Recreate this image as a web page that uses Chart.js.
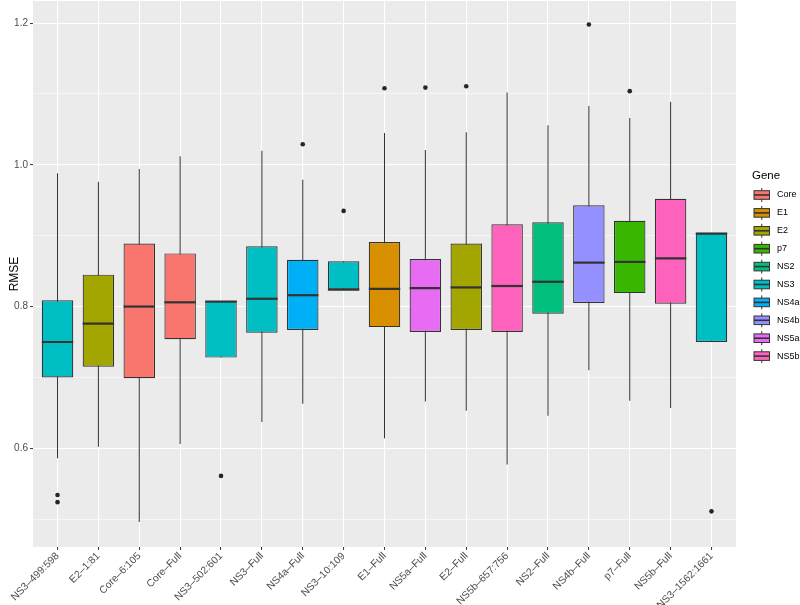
<!DOCTYPE html>
<html><head><meta charset="utf-8">
<script src="https://cdn.jsdelivr.net/npm/chart.js@4"></script>
<style>html,body{margin:0;padding:0;background:#fff}#wrap{width:800px;height:605px}</style>
</head><body><div id="wrap"><canvas id="c" width="800" height="605"></canvas></div>
<script>
const categories = ['NS3–499:598','E2–1:81','Core–6:105','Core–Full','NS3–502:601','NS3–Full','NS4a–Full','NS3–10:109','E1–Full','NS5a–Full','E2–Full','NS5b–657:756','NS2–Full','NS4b–Full','p7–Full','NS5b–Full','NS3–1562:1661'];
const genes = ['NS3','E2','Core','Core','NS3','NS3','NS4a','NS3','E1','NS5a','E2','NS5b','NS2','NS4b','p7','NS5b','NS3'];
const geneLevels = ['Core','E1','E2','p7','NS2','NS3','NS4a','NS4b','NS5a','NS5b'];
const geneColors = ['#F8766D','#D89000','#A3A500','#39B600','#00BF7D','#00BFC4','#00B0F6','#9590FF','#E76BF3','#FF62BC'];
const whiskerLow  = [0.586,0.602,0.496,0.606,0.728,0.637,0.663,0.824,0.614,0.666,0.653,0.577,0.646,0.710,0.667,0.657,0.750];
const q1          = [0.700,0.715,0.699,0.754,0.728,0.763,0.767,0.824,0.771,0.764,0.767,0.764,0.790,0.805,0.819,0.804,0.750];
const median      = [0.750,0.776,0.800,0.806,0.807,0.811,0.816,0.824,0.825,0.826,0.827,0.829,0.835,0.862,0.863,0.868,0.903];
const q3          = [0.809,0.845,0.889,0.875,0.808,0.885,0.866,0.864,0.891,0.867,0.889,0.916,0.919,0.943,0.921,0.952,0.904];
const whiskerHigh = [0.988,0.976,0.994,1.012,0.808,1.020,0.979,0.864,1.045,1.021,1.046,1.102,1.056,1.083,1.066,1.089,0.904];
const outliers    = [[0.534,0.524],[],[],[],[0.561],[],[1.029],[0.935],[1.108],[1.109],[1.111],[],[],[1.198],[1.104],[],[0.511]];
const yTickValues = [0.5,0.6,0.7,0.8,0.9,1.0,1.1,1.2];

const idx = categories.map((_, i) => i);
const fillFor = i => geneColors[geneLevels.indexOf(genes[i])];
const isMajor = v => Math.round(v * 10) % 2 === 0;
const FONT = '"Liberation Sans", Arial, sans-serif';

const bgPlugin = {
  id: 'panelBg',
  beforeDraw(chart) {
    const {ctx, chartArea: a} = chart;
    ctx.save();
    ctx.fillStyle = '#FFFFFF';
    ctx.fillRect(0, 0, chart.width, chart.height);
    ctx.fillStyle = '#EBEBEB';
    ctx.fillRect(a.left, a.top, a.right - a.left, a.bottom - a.top);
    ctx.restore();
  }
};

const legendPlugin = {
  id: 'geneLegend',
  afterDraw(chart) {
    const ctx = chart.ctx;
    ctx.save();
    ctx.fillStyle = '#000000';
    ctx.textBaseline = 'middle';
    ctx.textAlign = 'left';
    ctx.font = '11.5px ' + FONT;
    ctx.fillText('Gene', 752, 176);
    const kw = 17.5, x0 = 753;
    geneLevels.forEach((g, k) => {
      const cy = 195 + k * 17.9;
      const cx = x0 + kw / 2;
      ctx.strokeStyle = '#333333';
      ctx.lineWidth = 1;
      ctx.beginPath();
      ctx.moveTo(cx, cy - 7); ctx.lineTo(cx, cy + 7);
      ctx.stroke();
      ctx.fillStyle = geneColors[k];
      ctx.fillRect(x0 + 1, cy - 4.3, kw - 2, 8.6);
      ctx.strokeRect(x0 + 1, cy - 4.3, kw - 2, 8.6);
      ctx.lineWidth = 1.6;
      ctx.beginPath();
      ctx.moveTo(x0 + 1, cy); ctx.lineTo(x0 + kw - 1, cy);
      ctx.stroke();
      ctx.fillStyle = '#000000';
      ctx.font = '9px ' + FONT;
      ctx.fillText(g, 777, cy);
    });
    ctx.restore();
  }
};

const outlierPoints = [];
outliers.forEach((arr, i) => arr.forEach(v => outlierPoints.push({x: i, y: v})));

new Chart(document.getElementById('c'), {
  type: 'bar',
  data: {
    datasets: [
      {
        type: 'bar', label: 'whiskers',
        data: idx.map(i => ({x: i, y: [whiskerLow[i], whiskerHigh[i]]})),
        backgroundColor: '#333333', borderWidth: 0,
        grouped: false, maxBarThickness: 1, order: 3
      },
      {
        type: 'bar', label: 'boxes',
        data: idx.map(i => ({x: i, y: [q1[i], q3[i]]})),
        backgroundColor: idx.map(fillFor),
        borderColor: '#333333', borderWidth: 1.2, borderSkipped: false,
        grouped: false, barPercentage: 0.77, categoryPercentage: 1, order: 2
      },
      {
        type: 'line', label: 'median',
        data: idx.map(i => ({x: i, y: median[i]})),
        showLine: false, pointStyle: 'line', pointRadius: 15.7, pointHoverRadius: 15.7,
        pointBorderWidth: 2.2, pointBorderColor: '#333333', order: 1
      },
      {
        type: 'scatter', label: 'outliers',
        data: outlierPoints,
        pointRadius: 2.3, pointBackgroundColor: '#262626', pointBorderColor: '#262626',
        pointBorderWidth: 0, order: 0
      }
    ]
  },
  options: {
    responsive: false,
    animation: false,
    events: [],
    layout: {autoPadding: false, padding: {top: 1, right: 64, left: 0, bottom: 0}},
    plugins: {legend: {display: false}, tooltip: {enabled: false}},
    scales: {
      x: {
        type: 'linear', min: -0.6, max: 16.6, offset: false,
        afterBuildTicks: s => { s.ticks = idx.map(v => ({value: v})); },
        afterFit: s => { s.height = 58; s.paddingLeft = 0; s.paddingRight = 0; },
        grid: {offset: false, color: '#FFFFFF', lineWidth: 1.1, tickLength: 3, tickColor: '#333333', tickWidth: 1},
        border: {display: false},
        ticks: {
          autoSkip: false, maxRotation: 45, minRotation: 45, padding: 0,
          color: '#4D4D4D', font: {family: FONT, size: 10.3},
          callback: v => categories[v]
        }
      },
      y: {
        min: 0.4607, max: 1.2312,
        afterBuildTicks: s => { s.ticks = yTickValues.map(v => ({value: v})); },
        afterFit: s => { s.width = 33; s.paddingTop = 0; s.paddingBottom = 0; },
        grid: {
          color: '#FFFFFF',
          lineWidth: c => isMajor(c.tick.value) ? 1.1 : 0.55,
          tickColor: c => isMajor(c.tick.value) ? '#333333' : 'rgba(0,0,0,0)',
          tickLength: 3, tickWidth: 1
        },
        border: {display: false},
        ticks: {
          padding: 2, color: '#4D4D4D', font: {family: FONT, size: 10},
          callback: v => isMajor(v) ? v.toFixed(1) : ''
        },
        title: {display: true, text: 'RMSE', color: '#000000', font: {family: FONT, size: 12}, padding: {top: 7, bottom: 0}}
      }
    }
  },
  plugins: [bgPlugin, legendPlugin]
});
</script></body></html>
